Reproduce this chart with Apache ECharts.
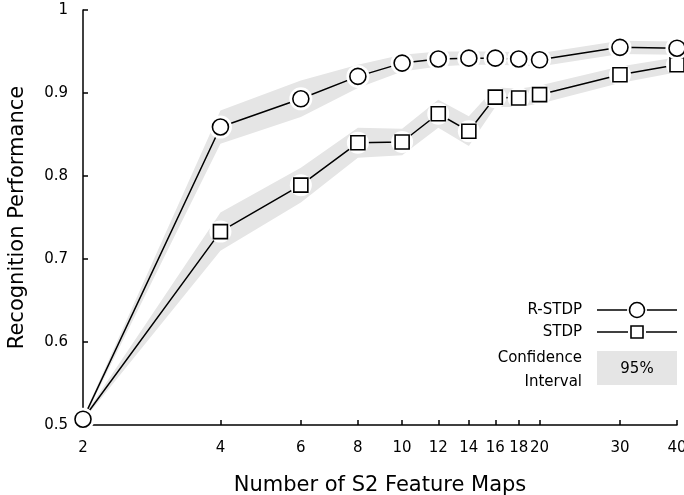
<!DOCTYPE html>
<html>
<head>
<meta charset="utf-8">
<script src="https://cdn.jsdelivr.net/npm/echarts@6/dist/echarts.min.js"></script>
<style>html,body{margin:0;padding:0;background:#fff;}#c{width:684px;height:495px;}</style>
</head>
<body>
<div id="c"></div>
<script>
const xVals = [2, 4, 6, 8, 10, 12, 14, 16, 18, 20, 30, 40];
const rstdp = [0.507, 0.859, 0.893, 0.920, 0.936, 0.941, 0.942, 0.942, 0.941, 0.940, 0.955, 0.954];
const stdp  = [0.507, 0.733, 0.789, 0.840, 0.841, 0.875, 0.854, 0.895, 0.894, 0.898, 0.922, 0.934];
const rstdpCI = [0.002, 0.020, 0.022, 0.014, 0.010, 0.009, 0.008, 0.008, 0.008, 0.008, 0.008, 0.008];
const stdpCI  = [0.002, 0.023, 0.021, 0.018, 0.016, 0.017, 0.018, 0.012, 0.011, 0.011, 0.010, 0.009];
const xTicks = [2, 4, 6, 8, 10, 12, 14, 16, 18, 20, 30, 40];
const yTicks = [0.5, 0.6, 0.7, 0.8, 0.9, 1];

const FONT = '"DejaVu Sans", Verdana, sans-serif';
const BAND = '#e5e5e5';

function pairs(vals) { return xVals.map((x, i) => [x, vals[i]]); }

const chart = echarts.init(document.getElementById('c'));

function bandSeries(vals, ci) {
  return {
    type: 'custom', silent: true, z: 1, clip: true,
    data: xVals.map((x, i) => [x, vals[i] - ci[i], vals[i] + ci[i]]),
    encode: { x: 0, y: [1, 2] },
    renderItem: function (params, api) {
      if (params.dataIndex !== 0) return null;
      const up = xVals.map((x, i) => api.coord([x, vals[i] + ci[i]]));
      const dn = xVals.map((x, i) => api.coord([x, vals[i] - ci[i]])).reverse();
      return { type: 'polygon', shape: { points: up.concat(dn) }, style: { fill: BAND } };
    }
  };
}

const series = [
  bandSeries(stdp, stdpCI),
  bandSeries(rstdp, rstdpCI),
  { type: 'line', data: pairs(stdp), symbol: 'none', lineStyle: { color: '#000', width: 1.5 }, z: 2 },
  { type: 'line', data: pairs(rstdp), symbol: 'none', lineStyle: { color: '#000', width: 1.5 }, z: 2 },
  { type: 'scatter', data: pairs(stdp), symbol: 'circle', symbolSize: 22, clip: false,
    itemStyle: { color: '#fff', opacity: 1 }, z: 3, silent: true },
  { type: 'scatter', data: pairs(stdp), symbol: 'rect', symbolSize: 14, clip: false,
    itemStyle: { color: '#fff', borderColor: '#000', borderWidth: 1.6, opacity: 1 }, z: 4 },
  { type: 'scatter', data: pairs(rstdp), symbol: 'circle', symbolSize: 23, clip: false,
    itemStyle: { color: '#fff', opacity: 1 }, z: 5, silent: true },
  { type: 'scatter', data: pairs(rstdp), symbol: 'circle', symbolSize: 16, clip: false,
    itemStyle: { color: '#fff', borderColor: '#000', borderWidth: 1.6, opacity: 1 }, z: 6 }
];

const LX = 582; // legend text right edge
const TF = '15px ' + FONT;
const graphic = [
  { type: 'text', x: LX, y: 310, style: { text: 'R-STDP', font: TF, fill: '#000', textAlign: 'right', textVerticalAlign: 'middle' }, z: 10 },
  { type: 'line', shape: { x1: 597, y1: 310, x2: 677, y2: 310 }, style: { stroke: '#000', lineWidth: 1.5 }, z: 10 },
  { type: 'circle', shape: { cx: 637, cy: 310, r: 10 }, style: { fill: '#fff' }, z: 11 },
  { type: 'circle', shape: { cx: 637, cy: 310, r: 7.5 }, style: { fill: '#fff', stroke: '#000', lineWidth: 1.6 }, z: 12 },
  { type: 'text', x: LX, y: 332, style: { text: 'STDP', font: TF, fill: '#000', textAlign: 'right', textVerticalAlign: 'middle' }, z: 10 },
  { type: 'line', shape: { x1: 597, y1: 332, x2: 677, y2: 332 }, style: { stroke: '#000', lineWidth: 1.5 }, z: 10 },
  { type: 'rect', shape: { x: 628, y: 323, width: 18, height: 18 }, style: { fill: '#fff' }, z: 11 },
  { type: 'rect', shape: { x: 631, y: 326, width: 12, height: 12 }, style: { fill: '#fff', stroke: '#000', lineWidth: 1.6 }, z: 12 },
  { type: 'text', x: LX, y: 358, style: { text: 'Confidence', font: TF, fill: '#000', textAlign: 'right', textVerticalAlign: 'middle' }, z: 10 },
  { type: 'text', x: LX, y: 382, style: { text: 'Interval', font: TF, fill: '#000', textAlign: 'right', textVerticalAlign: 'middle' }, z: 10 },
  { type: 'rect', shape: { x: 597, y: 351, width: 80, height: 34 }, style: { fill: BAND }, z: 10 },
  { type: 'text', x: 637, y: 369, style: { text: '95%', font: TF, fill: '#000', textAlign: 'center', textVerticalAlign: 'middle' }, z: 11 }
];

chart.setOption({
  animation: false,
  grid: { left: 83, right: 7, top: 10, bottom: 70, containLabel: false, outerBoundsMode: 'none' },
  xAxis: {
    type: 'log', logBase: 10, min: 2, max: 40,
    name: 'Number of S2 Feature Maps', nameLocation: 'middle', nameGap: 50,
    nameTextStyle: { fontFamily: FONT, fontSize: 21, color: '#000' },
    axisLine: { show: true, lineStyle: { color: '#000', width: 1.5 } },
    axisTick: { show: true, inside: true, length: 5, customValues: xTicks.slice(1), lineStyle: { color: '#000', width: 1.5 } },
    axisLabel: { customValues: xTicks, formatter: v => String(Math.round(v)), fontFamily: FONT, fontSize: 15, color: '#000', margin: 16 },
    splitLine: { show: false }, minorTick: { show: false }
  },
  yAxis: {
    type: 'value', min: 0.5, max: 1, interval: 0.1,
    name: 'Recognition Performance', nameLocation: 'middle', nameGap: 55,
    nameTextStyle: { fontFamily: FONT, fontSize: 21, color: '#000' },
    axisLine: { show: true, lineStyle: { color: '#000', width: 1.5 } },
    axisTick: { show: true, inside: true, length: 5, customValues: yTicks.slice(1), lineStyle: { color: '#000', width: 1.5 } },
    axisLabel: { customValues: yTicks, formatter: v => (Math.abs(v - 1) < 1e-9 ? '1' : v.toFixed(1)), fontFamily: FONT, fontSize: 15, color: '#000', margin: 15 },
    splitLine: { show: false }
  },
  series: series,
  graphic: graphic
});
</script>
</body>
</html>
